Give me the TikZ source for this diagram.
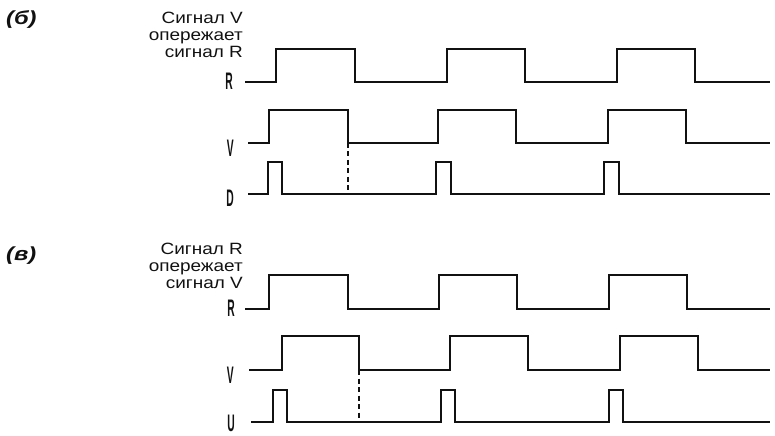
\documentclass[tikz,border=0pt]{standalone}
\usepackage{fontspec}
\setmainfont{Liberation Sans}
\newfontfamily\notefont{Liberation Sans}[FakeStretch=1.16]
\newfontfamily\partfont{Liberation Sans}[FakeStretch=1.25]
\newfontfamily\lblfont{Liberation Sans}[FakeStretch=0.43]
\usepackage{tikz}
\usetikzlibrary{positioning}
\definecolor{ink}{HTML}{111111}

\begin{document}
\begin{tikzpicture}[x=1bp,y=-1bp,
  sig/.style={draw=ink,line width=1.7bp},
  mark line/.style={draw=ink,line width=1.4bp,dash pattern=on 5bp off 3.5bp},
  siglbl/.style={anchor=east,inner sep=0pt,text=ink,font=\lblfont\fontsize{24}{24}\selectfont\bfseries},
  part/.style={anchor=north west,inner sep=0pt,text=ink,font=\partfont\fontsize{19}{19}\selectfont\bfseries\itshape},
  note/.style={anchor=north east,inner sep=0pt,align=right,text=ink,font=\notefont\fontsize{16.4}{16.8}\selectfont}]
  \useasboundingbox (0,0) rectangle (775,436);

  % (b) V leads R
  \node[part] (pb) at (6,10) {(б)};
  \node[note] (nb) at (243,12) {Сигнал V\\опережает\\сигнал R};
  \node[siglbl] (rb) at (233,81.5) {R};
  \node[siglbl] (vb) at (234,148) {V};
  \node[siglbl] (db) at (234,198.5) {D};
  \draw[sig] (245,82) -| (276,49) -| (355,82) -| (447,49) -| (525,82) -| (617,49) -| (695,82) -- (770,82);
  \draw[sig] (248,143) -| (269,110) -| (348,143) -| (438,110) -| (516,143) -| (608,110) -| (686,143) -- (770,143);
  \draw[sig] (248,194) -| (268,162) -| (282,194) -| (436,162) -| (451,194) -| (604,162) -| (619,194) -- (770,194);
  \coordinate (vfb) at (348,143);
  \coordinate (dlb) at (348,194);
  \draw[mark line] (vfb) -- (dlb);

  % (v) R leads V
  \node[part] (pv) at (6,247) {(в)};
  \node[note] (nv) at (243,243) {Сигнал R\\опережает\\сигнал V};
  \node[siglbl] (rv) at (235,308.5) {R};
  \node[siglbl] (vv) at (234,375) {V};
  \node[siglbl] (uv) at (235,423) {U};
  \draw[sig] (245,309) -| (269,275) -| (348,309) -| (439,275) -| (517,309) -| (609,275) -| (687,309) -- (770,309);
  \draw[sig] (249,370) -| (282,336) -| (359,370) -| (450,336) -| (528,370) -| (620,336) -| (698,370) -- (770,370);
  \draw[sig] (251,422) -| (273,390) -| (287,422) -| (441,390) -| (455,422) -| (609,390) -| (623,422) -- (770,422);
  \coordinate (vfv) at (359,370);
  \coordinate (ulv) at (359,422);
  \draw[mark line] (vfv) -- (ulv);
\end{tikzpicture}
\end{document}
